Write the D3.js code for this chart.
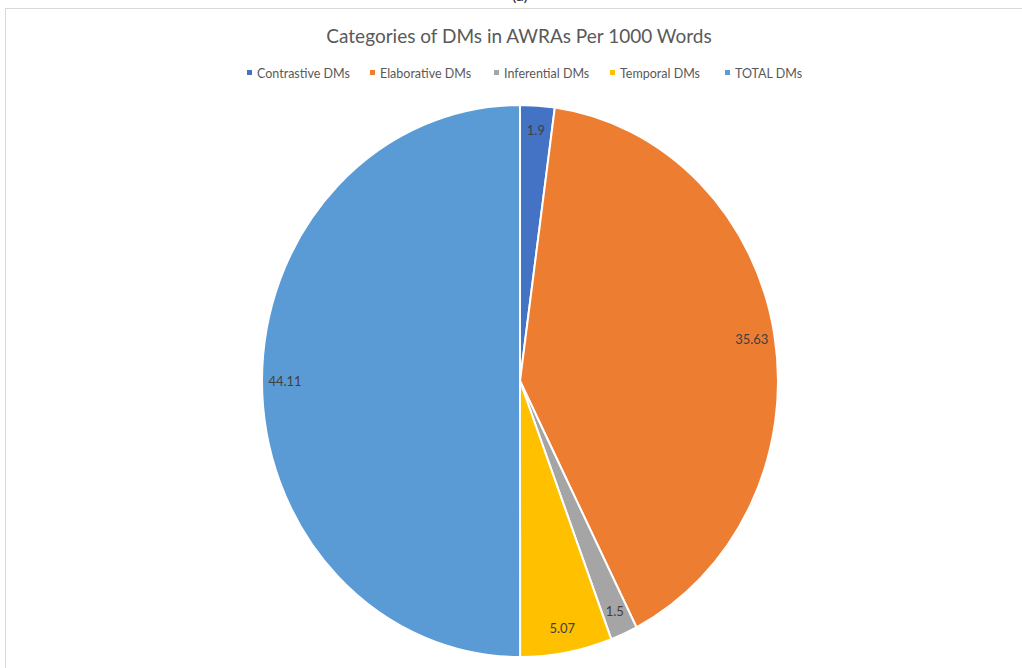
<!DOCTYPE html>
<html><head><meta charset="utf-8">
<script src="https://cdn.jsdelivr.net/npm/d3@7"></script>
<style>body{margin:0;background:#fff;} svg{display:block;font-family:Lato,"Open Sans",sans-serif;}</style>
</head><body>
<svg id="c" width="1022" height="668"></svg>
<script>
const categories = ["Contrastive DMs","Elaborative DMs","Inferential DMs","Temporal DMs","TOTAL DMs"];
const values = [1.9, 35.63, 1.5, 5.07, 44.11];
const labels = ["1.9","35.63","1.5","5.07","44.11"];
const colors = ["#4472C4","#ED7D31","#A5A5A5","#FFC000","#5B9BD5"];
const title = "Categories of DMs in AWRAs Per 1000 Words";

const svg = d3.select("#c");
// chart border
svg.append("rect").attr("x",5.5).attr("y",8.5).attr("width",1030).attr("height",700)
  .attr("fill","none").attr("stroke","#d9d9d9").attr("stroke-width",1);
svg.append("text").attr("x",520).attr("y",1).attr("text-anchor","middle")
  .attr("font-size",16).attr("fill","#333").text("(a)");

svg.append("text").attr("x",519).attr("y",43).attr("text-anchor","middle")
  .attr("font-size",19).attr("fill","#595959").text(title);

// legend
const legX = [247,370,494,610,725];
const leg = svg.append("g");
categories.forEach((c,i)=>{
  leg.append("rect").attr("x",legX[i]).attr("y",70).attr("width",5).attr("height",5).attr("fill",colors[i]);
  leg.append("text").attr("x",legX[i]+10).attr("y",77.5).attr("font-size",12.5).attr("fill","#595959").text(c);
});

const cx=520, cy=381, rx=258, ry=276;
const pie = d3.pie().sort(null).value(d=>d)(values);
const arc = d3.arc().innerRadius(0).outerRadius(rx);
const g = svg.append("g").attr("transform",`translate(${cx},${cy}) scale(1,${ry/rx})`);
g.selectAll("path").data(pie).join("path")
  .attr("d",arc).attr("fill",(d,i)=>colors[i])
  .attr("stroke","#fff").attr("stroke-width",2).attr("vector-effect","non-scaling-stroke");

const lr = 235;
svg.append("g").selectAll("text").data(pie).join("text")
  .attr("x",d=>cx+Math.sin((d.startAngle+d.endAngle)/2)*lr)
  .attr("y",d=>cy-Math.cos((d.startAngle+d.endAngle)/2)*lr*ry/rx)
  .attr("dy","0.35em").attr("text-anchor","middle")
  .attr("font-size",13).attr("fill","#404040")
  .text((d,i)=>labels[i]);
</script>
</body></html>
